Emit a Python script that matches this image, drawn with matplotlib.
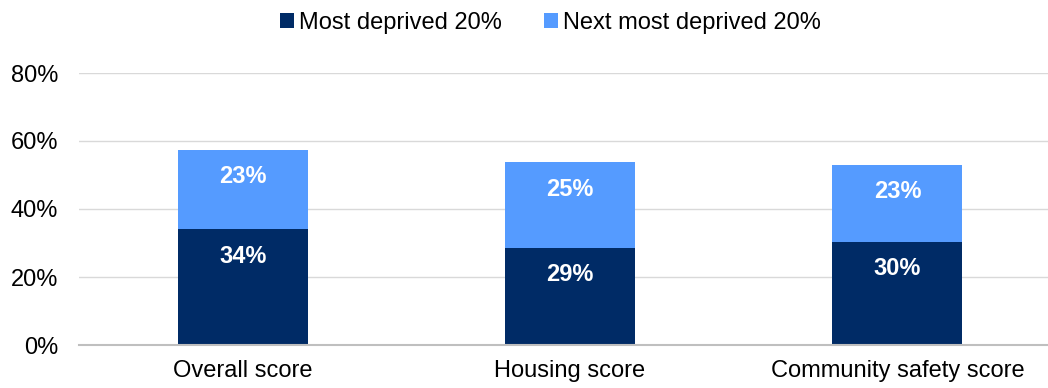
import numpy as np
import matplotlib
matplotlib.use('Agg')
import matplotlib.pyplot as plt

plt.rcParams['font.family'] = ['Liberation Sans', 'DejaVu Sans']

# Share of areas in each deprivation band, by score
categories = ['Overall score', 'Housing score', 'Community safety score']
most_deprived = [34.1, 28.6, 30.3]
next_most_deprived = [23.3, 25.2, 22.7]
series_names = ['Most deprived 20%', 'Next most deprived 20%']
y_ticks = [0, 20, 40, 60, 80]

DARK = '#002B66'
LIGHT = '#559BFF'
FS = 17

fig = plt.figure(figsize=(10.48, 3.88), dpi=100)
ax = fig.add_axes([79 / 1048, 1 - 345 / 388, 1 - 79 / 1048, (345 - 73) / 388])

x = np.arange(len(categories))
w = 0.397

b1 = ax.bar(x, most_deprived, w, color=DARK, label=series_names[0], zorder=3)
b2 = ax.bar(x, next_most_deprived, w, bottom=most_deprived, color=LIGHT,
            label=series_names[1], zorder=3)

# value labels near the top of each segment
for i in range(len(x)):
    for val, base in [(most_deprived[i], 0), (next_most_deprived[i], most_deprived[i])]:
        ax.annotate('{:.0f}%'.format(val), (x[i], base + val), xytext=(0, -27),
                    textcoords='offset pixels', ha='center', va='center',
                    color='white', fontsize=FS, fontweight='bold', zorder=4)

ax.set_xlim(-0.5, 2.46)
ax.set_ylim(0, 80)
ax.set_yticks(y_ticks)
ax.set_yticklabels(['{:d}%'.format(t) for t in y_ticks], fontsize=FS)
ax.set_xticks(x)
ax.set_xticklabels(categories, fontsize=FS)
ax.tick_params(axis='both', length=0)
ax.tick_params(axis='x', pad=11)
ax.tick_params(axis='y', pad=15)

ax.grid(axis='y', color='#D9D9D9', lw=1, zorder=0)
for s in ['top', 'right', 'left']:
    ax.spines[s].set_visible(False)
ax.spines['bottom'].set_color('#BFBFBF')
ax.spines['bottom'].set_linewidth(1.5)
ax.spines['bottom'].set_zorder(5)

fig.legend(handles=[b1, b2], loc='center', bbox_to_anchor=(0.525, 0.94), ncol=2,
           frameon=False, fontsize=FS, handlelength=0.6, handleheight=0.6,
           handletextpad=0.2, columnspacing=1.8)

fig.savefig('out.png', dpi=100)
